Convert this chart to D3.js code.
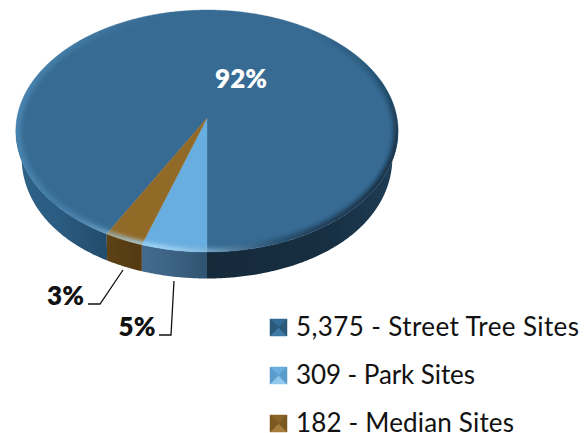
<!DOCTYPE html>
<html><head><meta charset="utf-8">
<style>html,body{margin:0;padding:0;background:#fff}svg{display:block}text{font-family:Lato,"Open Sans",sans-serif}</style>
<script src="https://cdnjs.cloudflare.com/ajax/libs/d3/7.8.5/d3.min.js"></script>
</head><body><svg id="c" width="587" height="433"></svg>
<script>
const categories = ["Street Tree Sites","Park Sites","Median Sites"];
const siteCounts = [5375,309,182];
const legendLabels = ["5,375 - Street Tree Sites","309 - Park Sites","182 - Median Sites"];
const percentLabels = ["92%","5%","3%"];
const topColors = ["#376b93","#69aee0","#926a28"];
const markerShades = [["#2a5878","#3f7aa6","#336a94"],["#5a9cca","#93c8ee","#6aaedf"],["#7a5820","#a67e3c","#8a6426"]];

const svg = d3.select("#c");
const cx=207,cy=118,a=190,b=119.6,p=0.1075,depth=26.5,warp=0.055;
const project = t0 => { const t=t0-warp*Math.sin(t0-Math.PI); const u=Math.sin(t),v=-Math.cos(t),d=1-p*v; return [cx+a*u/d, cy+b*v/d]; };
const lower = q => { const n=Math.abs(q[0]-cx)/191; return [cx+(q[0]-cx)*(1-0.03*n*n*n), q[1]+depth]; };
const total=d3.sum(siteCounts);
const start=Math.PI - 2*Math.PI*(siteCounts[0]/total);
const pie=d3.pie().sort(null).startAngle(start).endAngle(start+2*Math.PI);
const arcs=pie(siteCounts);
const line=d3.line();
const samples=(t0,t1,step=0.01)=>{const n=Math.max(1,Math.ceil((t1-t0)/step));return d3.range(n+1).map(i=>t0+(t1-t0)*i/n);};

const defs=svg.append("defs");
const grad=(id,stops)=>{const g=defs.append("linearGradient").attr("id",id).attr("gradientUnits","userSpaceOnUse").attr("x1",10).attr("x2",400).attr("y1",0).attr("y2",0);
 stops.forEach(s=>g.append("stop").attr("offset",(s[0]-10)/390).attr("stop-color",s[1]));};
grad("sideStreet",[[10,"#2f6489"],[60,"#2b5b80"],[105,"#234c6c"],[206.9,"#234c6c"],[207,"#152a3b"],[330,"#172f42"],[397,"#1e3d56"]]);
grad("sidePark",[[142,"#436b8e"],[175,"#3c6283"],[207,"#2f5370"]]);
grad("sideMedian",[[106,"#5e4216"],[142,"#533a12"]]);
defs.append("filter").attr("id","blur").attr("x","-10%").attr("y","-10%").attr("width","120%").attr("height","120%").append("feGaussianBlur").attr("stdDeviation",2);
const rim=samples(0,2*Math.PI).map(project);
defs.append("clipPath").attr("id","topClip").append("path").attr("d",line(rim)+"Z");

// side walls (front half only)
const sideFill=["url(#sideStreet)","url(#sidePark)","url(#sideMedian)"];
const sidePath=(t0,t1)=>{const top=samples(t0,t1).map(project);const bot=top.slice().reverse().map(lower);return line(top.concat(bot))+"Z";};
const F0=Math.PI/2,F1=3*Math.PI/2;
const sideG=svg.append("g");
arcs.forEach((d,i)=>{
  [[d.startAngle,d.endAngle],[d.startAngle+2*Math.PI,d.endAngle+2*Math.PI],[d.startAngle-2*Math.PI,d.endAngle-2*Math.PI]].forEach(([s,e])=>{
    const t0=Math.max(s,F0),t1=Math.min(e,F1);
    if(t1>t0) sideG.append("path").attr("d",sidePath(t0,t1)).attr("fill",sideFill[i]);
  });
});

// top face
const topG=svg.append("g");
arcs.forEach((d,i)=>{
  const pts=[[cx,cy]].concat(samples(d.startAngle,d.endAngle).map(project));
  topG.append("path").attr("d",line(pts)+"Z").attr("fill",topColors[i]).attr("stroke",topColors[i]).attr("stroke-width",0.4);
});

// bevel along the rim
const rad=Math.PI/180;
const light=t=>Math.pow(Math.max(0,Math.cos(t-190*rad)),14);
const dark=t=>Math.pow(Math.max(0,Math.cos(t-115*rad)),2);
const lift=t=>Math.pow(Math.max(0,Math.cos(t-270*rad)),2);
const bevel=svg.append("g").attr("clip-path","url(#topClip)").append("g").attr("filter","url(#blur)");
samples(0,2*Math.PI,0.03).forEach(t=>{
  const seg=line([project(t),project(t+0.035)]);
  const l=light(t),k=dark(t),f=lift(t);
  if(f>0.01) bevel.append("path").attr("d",seg).attr("stroke","#5fa4d4").attr("stroke-opacity",f*0.4).attr("stroke-width",10).attr("fill","none");
  if(l>0.01) bevel.append("path").attr("d",seg).attr("stroke","#a8dcff").attr("stroke-opacity",Math.min(1,l*0.95)).attr("stroke-width",7).attr("fill","none");
  if(k>0.01) bevel.append("path").attr("d",seg).attr("stroke","#0d2233").attr("stroke-opacity",k*0.75).attr("stroke-width",9).attr("fill","none");
});

// percent labels
const labelStyle=(s,c)=>s.attr("font-size",26).attr("font-weight",800).attr("fill",c);
svg.append("text").text(percentLabels[0]).attr("x",241).attr("y",88).attr("text-anchor","middle").call(labelStyle,"#fff");
svg.append("text").text(percentLabels[1]).attr("x",137).attr("y",336).attr("text-anchor","middle").call(labelStyle,"#111");
svg.append("text").text(percentLabels[2]).attr("x",65.5).attr("y",305).attr("text-anchor","middle").call(labelStyle,"#111");

// leader lines
const leaders=[[[174,281],[171,335],[159,335]],[[123,270],[100,304],[88,304]]];
leaders.forEach(l=>svg.append("path").attr("d",line(l)).attr("fill","none").attr("stroke","#111").attr("stroke-width",1.3));

// legend
const legendWidths=[283,179,218];
const legendY=d3.scalePoint().domain(categories).range([327.5,423.5]);
const legend=svg.selectAll("g.leg").data(categories).join("g").attr("class","leg").attr("transform",d=>`translate(270,${legendY(d)})`);
legend.each(function(d,i){
  const g=d3.select(this),s=8.5;
  const [E,B,T]=markerShades[i];
  const c=[s,0],tl=[0,-s],tr=[2*s,-s],br=[2*s,s],bl=[0,s];
  g.append("rect").attr("y",-s).attr("width",2*s).attr("height",2*s).attr("fill",T);
  [[tl,tr,T],[bl,br,B],[tl,bl,E],[tr,br,E]].forEach(([u,w,col])=>g.append("path").attr("d",line([u,w,c])+"Z").attr("fill",col).attr("stroke",col).attr("stroke-width",0.5));
  g.append("text").text(legendLabels[i]).attr("x",26).attr("y",8.5).attr("font-size",26).attr("fill","#111")
   .attr("textLength",legendWidths[i]).attr("lengthAdjust","spacing");
});
</script></body></html>
